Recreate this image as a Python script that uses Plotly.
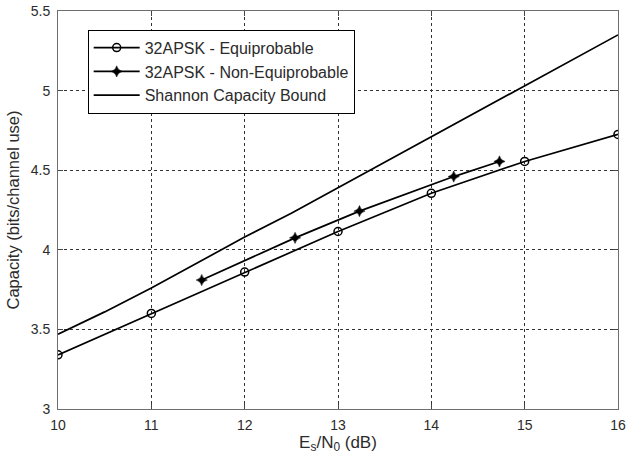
import plotly.graph_objects as go

# Data
eq_x = [10, 11, 12, 13, 14, 15, 16]
eq_y = [3.34, 3.60, 3.86, 4.115, 4.355, 4.555, 4.725]

neq_x = [11.54, 12.54, 13.23, 14.24, 14.73]
neq_y = [3.81, 4.075, 4.243, 4.46, 4.555]

sh_x = [10, 10.5, 11, 11.5, 12, 12.5, 13, 13.5, 14, 14.5, 15, 15.5, 16]
sh_y = [3.47, 3.61, 3.76, 3.92, 4.08, 4.23, 4.39, 4.55, 4.71, 4.87, 5.03, 5.19, 5.35]

x_ticks = [10, 11, 12, 13, 14, 15, 16]
y_ticks = [3, 3.5, 4, 4.5, 5, 5.5]
y_tick_text = ["3", "3.5", "4", "4.5", "5", "5.5"]

names = ["32APSK - Equiprobable", "32APSK - Non-Equiprobable", "Shannon Capacity Bound"]

FONT = "Liberation Sans, Arial, sans-serif"
TXT = "#2b2b2b"

fig = go.Figure()
fig.add_trace(go.Scatter(
    x=eq_x, y=eq_y, mode="lines+markers", name=names[0],
    line=dict(color="black", width=1.7),
    marker=dict(symbol="circle-open", size=8, color="black", line=dict(width=1.5, color="black")),
))
fig.add_trace(go.Scatter(
    x=neq_x, y=neq_y, mode="lines+markers", name=names[1],
    line=dict(color="black", width=1.7),
    marker=dict(symbol="star-diamond", size=8, color="black", line=dict(width=0.5, color="black")),
))
fig.add_trace(go.Scatter(
    x=sh_x, y=sh_y, mode="lines", name=names[2],
    line=dict(color="black", width=1.7),
))

axis_common = dict(
    showline=True, linecolor="#6e6e6e", linewidth=1, mirror="ticks",
    ticks="inside", ticklen=5, tickcolor="#444", tickwidth=1,
    showgrid=True, gridcolor="#333", gridwidth=1, griddash="3px,3px",
    zeroline=False, automargin=False,
    tickfont=dict(family=FONT, size=14, color=TXT),
)

fig.update_xaxes(
    range=[10, 16], tickvals=x_ticks, ticktext=[str(v) for v in x_ticks],
    title=dict(text="E<sub>s</sub>/N<sub>0</sub> (dB)", font=dict(family=FONT, size=17, color=TXT), standoff=2),
    ticklabelstandoff=3,
    **axis_common,
)
fig.update_yaxes(
    range=[3, 5.5], tickvals=y_ticks, ticktext=y_tick_text,
    title=dict(text="Capacity (bits/channel use)", font=dict(family=FONT, size=16.5, color=TXT), standoff=6),
    ticklabelstandoff=4,
    **axis_common,
)

fig.update_layout(
    template="none",
    width=626, height=462, autosize=False,
    margin=dict(l=58, r=8, t=11, b=53),
    paper_bgcolor="white", plot_bgcolor="white",
    showlegend=True,
    legend=dict(
        x=0.053, y=0.953, xanchor="left", yanchor="top",
        bgcolor="white", bordercolor="black", borderwidth=1,
        font=dict(family=FONT, size=16, color=TXT),
        itemwidth=46, tracegroupgap=0,
    ),
)

fig.write_html(
    "out.html",
    config={"responsive": False, "displayModeBar": False},
    post_script="document.body.style.margin='0';document.body.style.overflow='hidden';",
)
